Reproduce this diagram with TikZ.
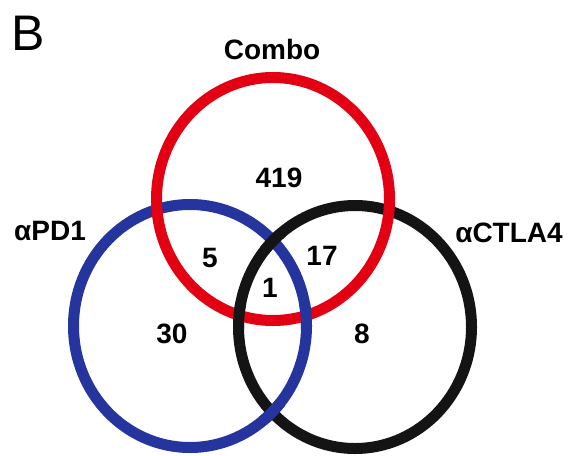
\documentclass[tikz,border=0pt]{standalone}
\usepackage{fontspec}
\setmainfont{Liberation Sans}
\definecolor{vred}{RGB}{226,0,18}
\definecolor{vblue}{RGB}{38,52,158}
\definecolor{vblack}{RGB}{20,20,20}
\begin{document}
\begin{tikzpicture}[x=1pt,y=-1pt,
  ring/.style={line width=11pt},
  lbl/.style={font=\fontsize{28}{32}\selectfont\bfseries, inner sep=0pt, anchor=base},
  panel/.style={font=\fontsize{50}{56}\selectfont, inner sep=0pt, anchor=base west}]
\useasboundingbox (0,0) rectangle (569,455);
% circles
\draw[ring, vblue]  (190,326) ellipse [x radius=116.5, y radius=121.5];
\draw[ring, vblack] (355,327) ellipse [x radius=116.5, y radius=121.5];
\draw[ring, vred]   (273,199) ellipse [x radius=116.5, y radius=121.5];
% weave: black over red (lower left)
\begin{scope}
  \clip (239,315.5) circle [radius=14];
  \draw[ring, vblack] (355,327) ellipse [x radius=116.5, y radius=121.5];
\end{scope}
% weave: blue over red (lower right)
\begin{scope}
  \clip (306,315.5) circle [radius=14];
  \draw[ring, vblue] (190,326) ellipse [x radius=116.5, y radius=121.5];
\end{scope}
% weave: black over blue (top)
\begin{scope}
  \clip (272.5,240.7) circle [radius=14];
  \draw[ring, vblack] (355,327) ellipse [x radius=116.5, y radius=121.5];
\end{scope}
% weave: blue over black (bottom)
\begin{scope}
  \clip (272.5,412.3) circle [radius=14];
  \draw[ring, vblue] (190,326) ellipse [x radius=116.5, y radius=121.5];
\end{scope}
% labels
\node[panel] (panelB) at (11,50) {B};
\node[lbl] (combo) at (272,59) {Combo};
\node[lbl] (pd1) at (50,240) {αPD1};
\node[lbl] (ctla4) at (509,242) {αCTLA4};
% counts
\node[lbl] (n419) at (279,187) {419};
\node[lbl] (n5) at (210,267) {5};
\node[lbl] (n17) at (322,265) {17};
\node[lbl] (n1) at (270,297) {1};
\node[lbl] (n30) at (172,343) {30};
\node[lbl] (n8) at (362,343) {8};
\end{tikzpicture}
\end{document}
